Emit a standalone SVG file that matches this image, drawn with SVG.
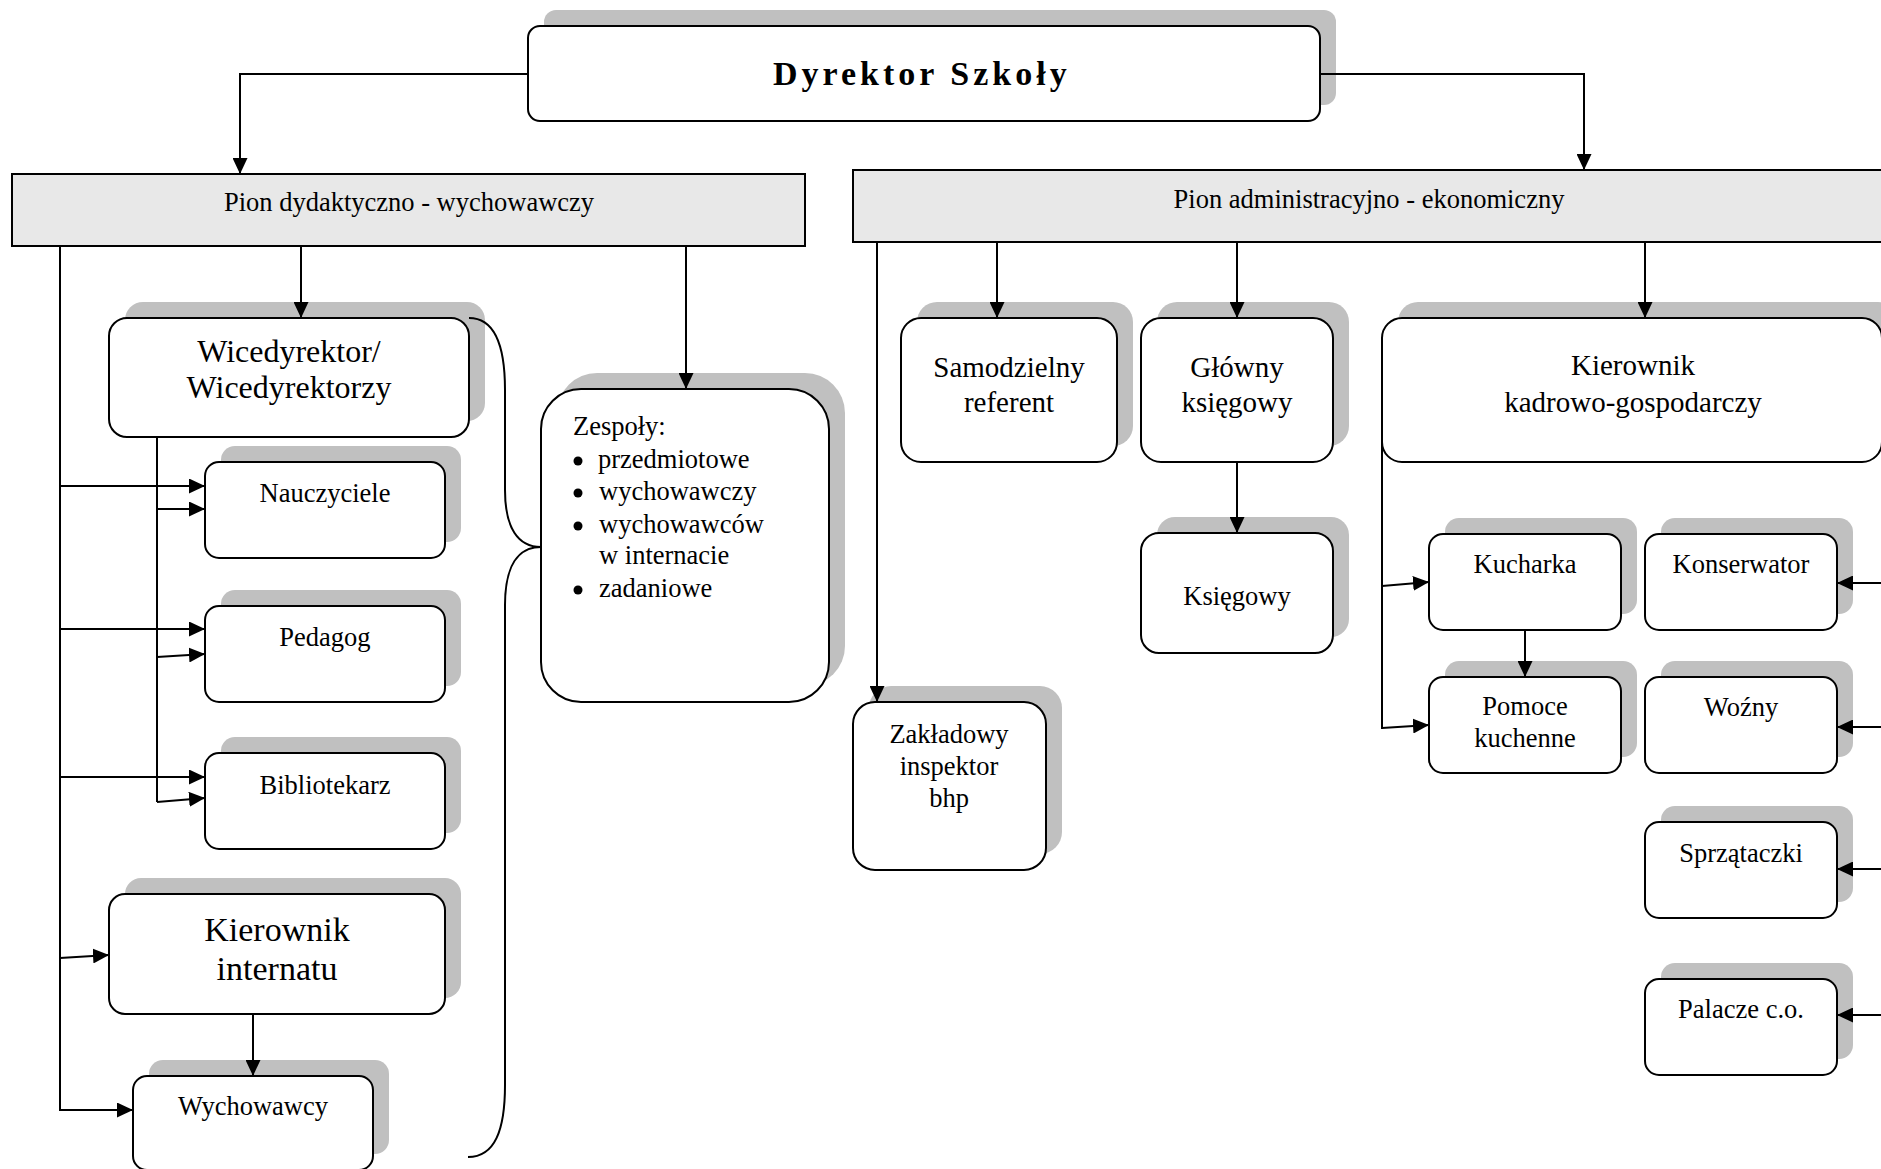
<svg xmlns="http://www.w3.org/2000/svg" width="1881" height="1169" viewBox="0 0 1881 1169">
<style>
.sh{fill:#c0c0c0;stroke:none}
.bx{fill:#fff;stroke:#000;stroke-width:2}
.pion{fill:#e8e8e8;stroke:#000;stroke-width:2}
.t{font-family:"Liberation Serif","Times New Roman",serif;font-size:26.5px;fill:#000;text-anchor:middle}
.tl{font-family:"Liberation Serif","Times New Roman",serif;font-size:26.5px;fill:#000}
.m{font-size:29px}
.l{font-size:32px}
.xl{font-size:34px}
.ttl{font-family:"Liberation Serif","Times New Roman",serif;font-size:34px;font-weight:bold;letter-spacing:4px;fill:#000}
.c{fill:none;stroke:#000;stroke-width:2}
.a{fill:none;stroke:#000;stroke-width:2;marker-end:url(#arr)}
</style>
<defs>
<marker id="arr" markerUnits="userSpaceOnUse" markerWidth="17" markerHeight="15" refX="16" refY="7.5" orient="auto">
<path d="M0,0 L16,7.5 L0,15 z" fill="#000"/>
</marker>
</defs>
<rect width="1881" height="1169" fill="#fff"/>

<g id="dyrektor">
<rect class="sh" x="544" y="10" width="792" height="95" rx="12"/>
<rect class="bx" x="528" y="26" width="792" height="95" rx="12"/>
<text class="ttl" x="773" y="85">Dyrektor Szkoły</text>
</g>

<g id="pion-dydaktyczny">
<rect class="pion" x="12" y="174" width="793" height="72"/>
<text class="t" x="409" y="211">Pion dydaktyczno - wychowawczy</text>
</g>

<g id="pion-administracyjny">
<rect class="pion" x="853" y="170" width="1040" height="72"/>
<text class="t" x="1369" y="208">Pion administracyjno - ekonomiczny</text>
</g>

<g id="wicedyrektor">
<rect class="sh" x="125" y="302" width="360" height="119" rx="18"/>
<rect class="bx" x="109" y="318" width="360" height="119" rx="18"/>
<text class="t l" x="289" y="362">Wicedyrektor/</text>
<text class="t l" x="289" y="398">Wicedyrektorzy</text>
</g>

<g id="nauczyciele">
<rect class="sh" x="221" y="446" width="240" height="96" rx="14"/>
<rect class="bx" x="205" y="462" width="240" height="96" rx="14"/>
<text class="t" x="325" y="502">Nauczyciele</text>
</g>

<g id="pedagog">
<rect class="sh" x="221" y="590" width="240" height="96" rx="14"/>
<rect class="bx" x="205" y="606" width="240" height="96" rx="14"/>
<text class="t" x="325" y="646">Pedagog</text>
</g>

<g id="bibliotekarz">
<rect class="sh" x="221" y="737" width="240" height="96" rx="14"/>
<rect class="bx" x="205" y="753" width="240" height="96" rx="14"/>
<text class="t" x="325" y="794">Bibliotekarz</text>
</g>

<g id="kierownik-internatu">
<rect class="sh" x="125" y="878" width="336" height="120" rx="16"/>
<rect class="bx" x="109" y="894" width="336" height="120" rx="16"/>
<text class="t xl" x="277" y="941">Kierownik</text>
<text class="t xl" x="277" y="980">internatu</text>
</g>

<g id="wychowawcy">
<rect class="sh" x="149" y="1060" width="240" height="94" rx="14"/>
<rect class="bx" x="133" y="1076" width="240" height="94" rx="14"/>
<text class="t" x="253" y="1115">Wychowawcy</text>
</g>

<g id="zespoly">
<rect class="sh" x="557" y="373" width="288" height="313" rx="40"/>
<rect class="bx" x="541" y="389" width="288" height="313" rx="40"/>
<text class="tl" x="573" y="435">Zespoły:</text>
<circle cx="578" cy="461" r="4.5"/>
<text class="tl" x="598" y="468">przedmiotowe</text>
<circle cx="578" cy="493" r="4.5"/>
<text class="tl" x="599" y="500">wychowawczy</text>
<circle cx="578" cy="526" r="4.5"/>
<text class="tl" x="599" y="533">wychowawców</text>
<text class="tl" x="599" y="564">w internacie</text>
<circle cx="578" cy="590" r="4.5"/>
<text class="tl" x="599" y="597">zadaniowe</text>
</g>

<g id="samodzielny-referent">
<rect class="sh" x="917" y="302" width="216" height="144" rx="20"/>
<rect class="bx" x="901" y="318" width="216" height="144" rx="20"/>
<text class="t m" x="1009" y="377">Samodzielny</text>
<text class="t m" x="1009" y="412">referent</text>
</g>

<g id="glowny-ksiegowy">
<rect class="sh" x="1157" y="302" width="192" height="144" rx="20"/>
<rect class="bx" x="1141" y="318" width="192" height="144" rx="20"/>
<text class="t m" x="1237" y="377">Główny</text>
<text class="t m" x="1237" y="412">księgowy</text>
</g>

<g id="ksiegowy">
<rect class="sh" x="1157" y="517" width="192" height="120" rx="18"/>
<rect class="bx" x="1141" y="533" width="192" height="120" rx="18"/>
<text class="t" x="1237" y="605">Księgowy</text>
</g>

<g id="zakladowy-inspektor">
<rect class="sh" x="869" y="686" width="193" height="168" rx="22"/>
<rect class="bx" x="853" y="702" width="193" height="168" rx="22"/>
<text class="t" x="949" y="743">Zakładowy</text>
<text class="t" x="949" y="775">inspektor</text>
<text class="t" x="949" y="807">bhp</text>
</g>

<g id="kierownik-kadrowo">
<rect class="sh" x="1398" y="302" width="500" height="144" rx="20"/>
<rect class="bx" x="1382" y="318" width="500" height="144" rx="20"/>
<text class="t m" x="1633" y="375">Kierownik</text>
<text class="t m" x="1633" y="412">kadrowo-gospodarczy</text>
</g>

<g id="kucharka">
<rect class="sh" x="1445" y="518" width="192" height="96" rx="14"/>
<rect class="bx" x="1429" y="534" width="192" height="96" rx="14"/>
<text class="t" x="1525" y="573">Kucharka</text>
</g>

<g id="pomoce-kuchenne">
<rect class="sh" x="1445" y="661" width="192" height="96" rx="14"/>
<rect class="bx" x="1429" y="677" width="192" height="96" rx="14"/>
<text class="t" x="1525" y="715">Pomoce</text>
<text class="t" x="1525" y="747">kuchenne</text>
</g>

<g id="konserwator">
<rect class="sh" x="1661" y="518" width="192" height="96" rx="14"/>
<rect class="bx" x="1645" y="534" width="192" height="96" rx="14"/>
<text class="t" x="1741" y="573">Konserwator</text>
</g>

<g id="wozny">
<rect class="sh" x="1661" y="661" width="192" height="96" rx="14"/>
<rect class="bx" x="1645" y="677" width="192" height="96" rx="14"/>
<text class="t" x="1741" y="716">Woźny</text>
</g>

<g id="sprzataczki">
<rect class="sh" x="1661" y="806" width="192" height="96" rx="14"/>
<rect class="bx" x="1645" y="822" width="192" height="96" rx="14"/>
<text class="t" x="1741" y="862">Sprzątaczki</text>
</g>

<g id="palacze">
<rect class="sh" x="1661" y="963" width="192" height="96" rx="14"/>
<rect class="bx" x="1645" y="979" width="192" height="96" rx="14"/>
<text class="t" x="1741" y="1018">Palacze c.o.</text>
</g>

<g id="connectors">
<polyline class="a" points="528,74 240,74 240,174"/>
<polyline class="a" points="1320,74 1584,74 1584,170"/>
<line class="a" x1="301" y1="246" x2="301" y2="318"/>
<line class="a" x1="686" y1="246" x2="686" y2="389"/>
<polyline class="a" points="60,246 60,1110 133,1110"/>
<line class="a" x1="60" y1="486" x2="205" y2="486"/>
<line class="a" x1="60" y1="629" x2="205" y2="629"/>
<line class="a" x1="60" y1="777" x2="205" y2="777"/>
<line class="a" x1="60" y1="958" x2="109" y2="955"/>
<line class="c" x1="157" y1="437" x2="157" y2="802"/>
<line class="a" x1="157" y1="509" x2="205" y2="509"/>
<line class="a" x1="157" y1="657" x2="205" y2="654"/>
<line class="a" x1="157" y1="802" x2="205" y2="798"/>
<line class="a" x1="253" y1="1014" x2="253" y2="1076"/>
<path class="c" d="M469,318 C495,318 505,345 505,390 L505,490 C505,528 518,547 541,547 C518,547 505,566 505,605 L505,1085 C505,1130 495,1157 468,1157"/>
<line class="a" x1="877" y1="242" x2="877" y2="702"/>
<line class="a" x1="997" y1="242" x2="997" y2="318"/>
<line class="a" x1="1237" y1="242" x2="1237" y2="318"/>
<line class="a" x1="1645" y1="242" x2="1645" y2="318"/>
<line class="a" x1="1237" y1="462" x2="1237" y2="533"/>
<line class="c" x1="1382" y1="440" x2="1382" y2="729"/>
<line class="a" x1="1382" y1="586" x2="1429" y2="582"/>
<line class="a" x1="1382" y1="728" x2="1429" y2="725"/>
<line class="a" x1="1525" y1="630" x2="1525" y2="677"/>
<line class="a" x1="1890" y1="583" x2="1837" y2="583"/>
<line class="a" x1="1890" y1="727" x2="1837" y2="727"/>
<line class="a" x1="1890" y1="869" x2="1837" y2="869"/>
<line class="a" x1="1890" y1="1015" x2="1837" y2="1015"/>
</g>
</svg>
